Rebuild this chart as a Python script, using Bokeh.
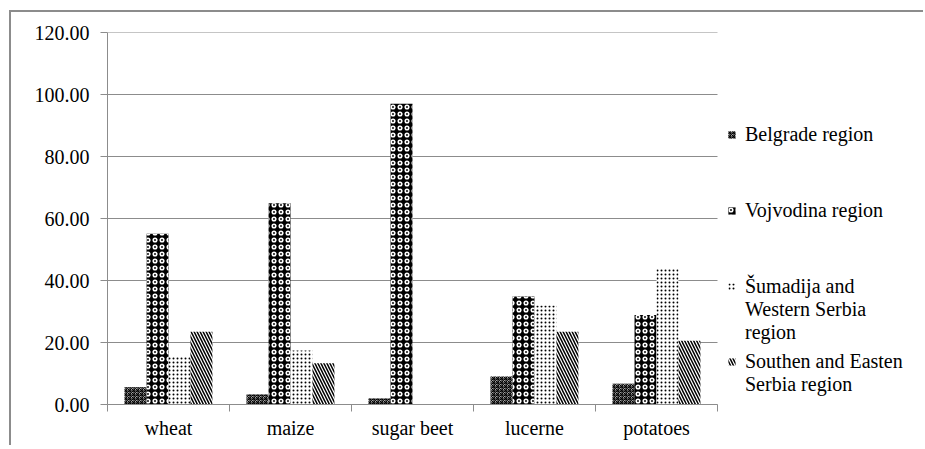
from bokeh.plotting import figure
from bokeh.models import (Legend, LegendItem, FixedTicker, NumeralTickFormatter,
                          Range1d, ColumnDataSource)
from bokeh.transform import dodge
from bokeh.embed import file_html
from bokeh.resources import INLINE

# ---- data -------------------------------------------------------------
crops = ["wheat", "maize", "sugar beet", "lucerne", "potatoes"]
regions = ["Belgrade region",
           "Vojvodina region",
           "Šumadija and\nWestern Serbia\nregion",
           "Southen and Easten\nSerbia region"]
belgrade = [5.6, 3.2, 1.9, 9.0, 6.7]
vojvodina = [55.1, 64.9, 97.0, 34.8, 28.9]
sumadija = [15.3, 17.4, 0.0, 31.9, 43.8]
southern = [23.5, 13.3, 0.0, 23.5, 20.6]
y_ticks = [0, 20, 40, 60, 80, 100, 120]

FONT = "Liberation Serif"
FSIZE = "20px"
GRID = "#8c8c8c"

n = len(crops)
pos = [i + 0.5 for i in range(n)]
bounds = [i for i in range(n + 1)]
src = ColumnDataSource(dict(x=pos, b=belgrade, v=vojvodina, s=sumadija, so=southern))

# frame spans the whole right side so the legend can sit inside it;
# the category area occupies 610 of the 818 frame pixels
p = figure(width=914, height=435, output_backend="svg", toolbar_location=None,
           x_range=Range1d(0, n * 818 / 610), y_range=Range1d(0, 120),
           min_border_left=96, min_border_right=0, min_border_top=20,
           min_border_bottom=43)
p.styles = {"border-left": f"2px solid {GRID}", "border-top": f"2px solid {GRID}",
            "margin-left": "9px", "margin-top": "10px"}
p.outline_line_color = None
p.background_fill_color = "white"
p.border_fill_color = "white"

# horizontal gridlines limited to the category area
p.segment(x0=[0] * len(y_ticks), x1=[n] * len(y_ticks), y0=y_ticks, y1=y_ticks,
          line_color=GRID, line_width=1, level="underlay")

W = 0.18
styles = [
    dict(field="b", off=-0.27, fill_color="#a0a0a0", hatch_pattern="criss_cross",
         hatch_color="black", hatch_scale=4, hatch_weight=1),
    dict(field="v", off=-0.09, fill_color="black", hatch_pattern="ring",
         hatch_color="white", hatch_scale=7, hatch_weight=1.6),
    dict(field="s", off=0.09, fill_color="white", hatch_pattern="dot",
         hatch_color="black", hatch_scale=4, hatch_weight=1),
    dict(field="so", off=0.27, fill_color="white", hatch_pattern="\\",
         hatch_color="black", hatch_scale=6, hatch_weight=1.5),
]
renderers = []
for st in styles:
    r = p.vbar(x=dodge("x", st["off"], range=p.x_range), top=st["field"], width=W,
               source=src, fill_color=st["fill_color"], line_color=None,
               hatch_pattern=st["hatch_pattern"], hatch_color=st["hatch_color"],
               hatch_scale=st["hatch_scale"], hatch_weight=st["hatch_weight"])
    renderers.append(r)

# empty, fully transparent renderer used for the continuation lines of
# multi-line legend entries (so the swatch sits beside the first line only)
ghost = p.vbar(x=[], top=[], width=W, fill_alpha=0, line_alpha=0, hatch_alpha=0)

# ---- axes -------------------------------------------------------------
xa = p.xaxis[0]
xa.bounds = (0, n)
xa.ticker = FixedTicker(ticks=pos, minor_ticks=bounds)
xa.major_label_overrides = {x: c for x, c in zip(pos, crops)}
xa.major_tick_line_color = None
xa.minor_tick_line_color = GRID
xa.minor_tick_out = 7
xa.minor_tick_in = 0
xa.axis_line_color = GRID
xa.major_label_standoff = 5
xa.major_label_text_font = FONT
xa.major_label_text_font_size = FSIZE
xa.major_label_text_color = "black"

ya = p.yaxis[0]
ya.ticker = FixedTicker(ticks=y_ticks)
ya.formatter = NumeralTickFormatter(format="0.00")
ya.axis_line_color = GRID
ya.major_tick_line_color = GRID
ya.major_tick_out = 7
ya.major_tick_in = 0
ya.minor_tick_line_color = None
ya.major_label_standoff = 11
ya.major_label_text_font = FONT
ya.major_label_text_font_size = FSIZE
ya.major_label_text_color = "black"

p.xgrid.grid_line_color = None
p.ygrid.grid_line_color = None

# ---- legend (one block per region, spread down the right side) -------
LINE = 23  # px per legend text line
first_line_bottom = [258, 182, 106, 31]


def make_legend(label, rend, y):
    return Legend(items=[LegendItem(label=label, renderers=[rend])], location=(620, y),
                  padding=0, margin=0, spacing=0, border_line_color=None,
                  background_fill_alpha=0, glyph_width=9, glyph_height=9,
                  label_standoff=9, label_text_font=FONT, label_text_font_size=FSIZE,
                  label_text_line_height=1.15, label_text_color="black")


for lab, r, yy in zip(regions, renderers, first_line_bottom):
    lines = lab.split("\n")
    p.add_layout(make_legend(lines[0], r, yy))
    if len(lines) > 1:
        rest = lines[1:]
        p.add_layout(make_legend("\n".join(rest), ghost, yy - LINE * len(rest)))

open("out.html", "w").write(file_html(p, INLINE))
